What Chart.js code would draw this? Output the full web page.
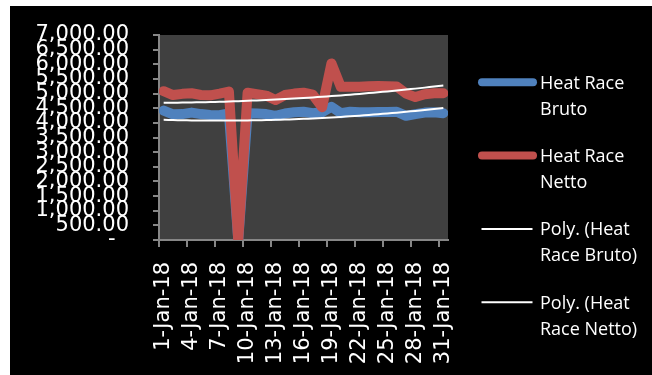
<!DOCTYPE html>
<html>
<head>
<meta charset="utf-8">
<title>Heat Race</title>
<script src="https://cdn.jsdelivr.net/npm/chart.js@4.4.1/dist/chart.umd.min.js"></script>
<style>
  html, body { margin: 0; padding: 0; background: #fff; }
  #wrap { position: absolute; left: 10px; top: 6px; width: 642px; height: 369px; background: #000; }
  canvas { display: block; }
</style>
</head>
<body>
<div id="wrap"><canvas id="heatChart" width="642" height="369"></canvas></div>
<script>
// January 2018 daily heat race, gross vs net
const days = [
  '1-Jan-18', '2-Jan-18', '3-Jan-18', '4-Jan-18', '5-Jan-18', '6-Jan-18', '7-Jan-18', '8-Jan-18',
  '9-Jan-18', '10-Jan-18', '11-Jan-18', '12-Jan-18', '13-Jan-18', '14-Jan-18', '15-Jan-18', '16-Jan-18',
  '17-Jan-18', '18-Jan-18', '19-Jan-18', '20-Jan-18', '21-Jan-18', '22-Jan-18', '23-Jan-18', '24-Jan-18',
  '25-Jan-18', '26-Jan-18', '27-Jan-18', '28-Jan-18', '29-Jan-18', '30-Jan-18', '31-Jan-18'
];

const heatBruto = [
  4420, 4290, 4300, 4350, 4300, 4270, 4260, 4320, 0, 4330, 4320, 4300, 4240, 4320, 4360, 4380,
  4330, 4360, 4550, 4330, 4380, 4360, 4360, 4370, 4370, 4380, 4240, 4300, 4350, 4360, 4330
];

const heatNetto = [
  5080, 4950, 4990, 5010, 4950, 4940, 5000, 5070, 0, 5030, 4980, 4930, 4780, 4950, 5000, 5030,
  4960, 4530, 6030, 5230, 5230, 5230, 5250, 5260, 5250, 5240, 5000, 4880, 4980, 5010, 5010
];

const legendLines = [
  ['Heat Race', 'Bruto'],
  ['Heat Race', 'Netto'],
  ['Poly. (Heat', 'Race Bruto)'],
  ['Poly. (Heat', 'Race Netto)']
];

const yMin = 0;
const yMax = 7000;
const yStep = 500;
const labelEvery = 3;

const axisGray = '#868686';
const plotFill = '#404040';

// 2nd order least squares fit over x = 1..n (polynomial trendline)
function polyTrend(ys) {
  const s = [0, 0, 0, 0, 0];
  const t = [0, 0, 0];
  ys.forEach((y, i) => {
    const x = i + 1;
    for (let p = 0; p < 5; p++) s[p] += Math.pow(x, p);
    for (let p = 0; p < 3; p++) t[p] += y * Math.pow(x, p);
  });
  const m = [[s[0], s[1], s[2]], [s[1], s[2], s[3]], [s[2], s[3], s[4]]];
  const det = a =>
    a[0][0] * (a[1][1] * a[2][2] - a[1][2] * a[2][1]) -
    a[0][1] * (a[1][0] * a[2][2] - a[1][2] * a[2][0]) +
    a[0][2] * (a[1][0] * a[2][1] - a[1][1] * a[2][0]);
  const d = det(m);
  const c = [0, 1, 2].map(col => det(m.map((row, r) => row.map((v, j) => (j === col ? t[r] : v)))) / d);
  return ys.map((_, i) => c[0] + c[1] * (i + 1) + c[2] * (i + 1) * (i + 1));
}

const plotBackground = {
  id: 'plotBackground',
  beforeDraw(chart) {
    const { ctx, chartArea: a } = chart;
    ctx.save();
    ctx.fillStyle = plotFill;
    ctx.fillRect(a.left, a.top, a.right - a.left, a.bottom - a.top);
    ctx.restore();
  }
};

// x tick marks sit on category boundaries, one every third day
const dayTicks = {
  id: 'dayTicks',
  afterDraw(chart) {
    const { ctx, scales: { x } } = chart;
    const half = (x.getPixelForValue(1) - x.getPixelForValue(0)) / 2;
    ctx.save();
    ctx.strokeStyle = axisGray;
    ctx.lineWidth = 2;
    ctx.beginPath();
    for (let i = 0; i < days.length; i += labelEvery) {
      const px = Math.round(x.getPixelForValue(i) - half);
      ctx.moveTo(px, x.top);
      ctx.lineTo(px, x.top + 7);
    }
    ctx.stroke();
    ctx.restore();
  }
};

// two-line legend entries on the right
const sideLegend = {
  id: 'sideLegend',
  afterDraw(chart) {
    const ctx = chart.ctx;
    const sets = chart.data.datasets;
    ctx.save();
    ctx.font = '18px "Open Sans"';
    ctx.fillStyle = '#fff';
    ctx.textAlign = 'left';
    ctx.textBaseline = 'alphabetic';
    legendLines.forEach((lines, k) => {
      const y = 76.3 + k * 73.3;
      const ds = sets[k];
      const thick = ds.borderWidth > 3;
      ctx.strokeStyle = ds.borderColor;
      ctx.lineWidth = thick ? 8 : 2;
      ctx.lineCap = thick ? 'round' : 'butt';
      ctx.beginPath();
      ctx.moveTo(thick ? 472 : 471.5, y);
      ctx.lineTo(thick ? 523 : 522.5, y);
      ctx.stroke();
      lines.forEach((txt, j) => ctx.fillText(txt, 530, y + 6.3 + j * 26));
    });
    ctx.restore();
  }
};

const seriesStyle = {
  pointRadius: 0,
  borderWidth: 10,
  borderCapStyle: 'round',
  borderJoinStyle: 'round',
  tension: 0,
  clip: 0
};

const trendStyle = {
  pointRadius: 0,
  borderWidth: 2,
  borderColor: '#ffffff',
  tension: 0.4,
  clip: 0
};

new Chart(document.getElementById('heatChart'), {
  type: 'line',
  data: {
    labels: days,
    datasets: [
      { label: 'Heat Race Bruto', data: heatBruto, borderColor: '#4f81bd', order: 3, ...seriesStyle },
      { label: 'Heat Race Netto', data: heatNetto, borderColor: '#c0504d', order: 2, ...seriesStyle },
      { label: 'Poly. (Heat Race Bruto)', data: polyTrend(heatBruto), order: 1, ...trendStyle },
      { label: 'Poly. (Heat Race Netto)', data: polyTrend(heatNetto), order: 0, ...trendStyle }
    ]
  },
  options: {
    responsive: false,
    animation: false,
    layout: { padding: { top: 29, right: 204, left: 0, bottom: 0 } },
    plugins: {
      legend: { display: false },
      tooltip: { enabled: false }
    },
    scales: {
      x: {
        type: 'category',
        offset: true,
        afterFit: s => { s.height = 135; s.paddingLeft = 0; s.paddingRight = 0; },
        border: { display: true, color: axisGray, width: 2 },
        grid: { display: true, drawOnChartArea: false, drawTicks: false },
        ticks: {
          autoSkip: false,
          minRotation: 90,
          maxRotation: 90,
          padding: 22,
          color: '#ffffff',
          font: { family: 'DejaVu Sans', size: 21 },
          callback: (v, i) => (i % labelEvery === 0 ? days[i] : '')
        }
      },
      y: {
        min: yMin,
        max: yMax,
        afterFit: s => { s.width = 149; s.paddingTop = 0; s.paddingBottom = 0; },
        border: { display: true, color: axisGray, width: 2 },
        grid: { drawOnChartArea: false, tickLength: 6, lineWidth: 2, color: axisGray },
        ticks: {
          stepSize: yStep,
          autoSkip: false,
          padding: 24,
          color: '#ffffff',
          font: { family: 'DejaVu Sans', size: 21 },
          callback: v => (v === 0 ? '-  ' : v.toLocaleString('en-US', { minimumFractionDigits: 2, maximumFractionDigits: 2 }))
        }
      }
    }
  },
  plugins: [plotBackground, dayTicks, sideLegend]
});
</script>
</body>
</html>
